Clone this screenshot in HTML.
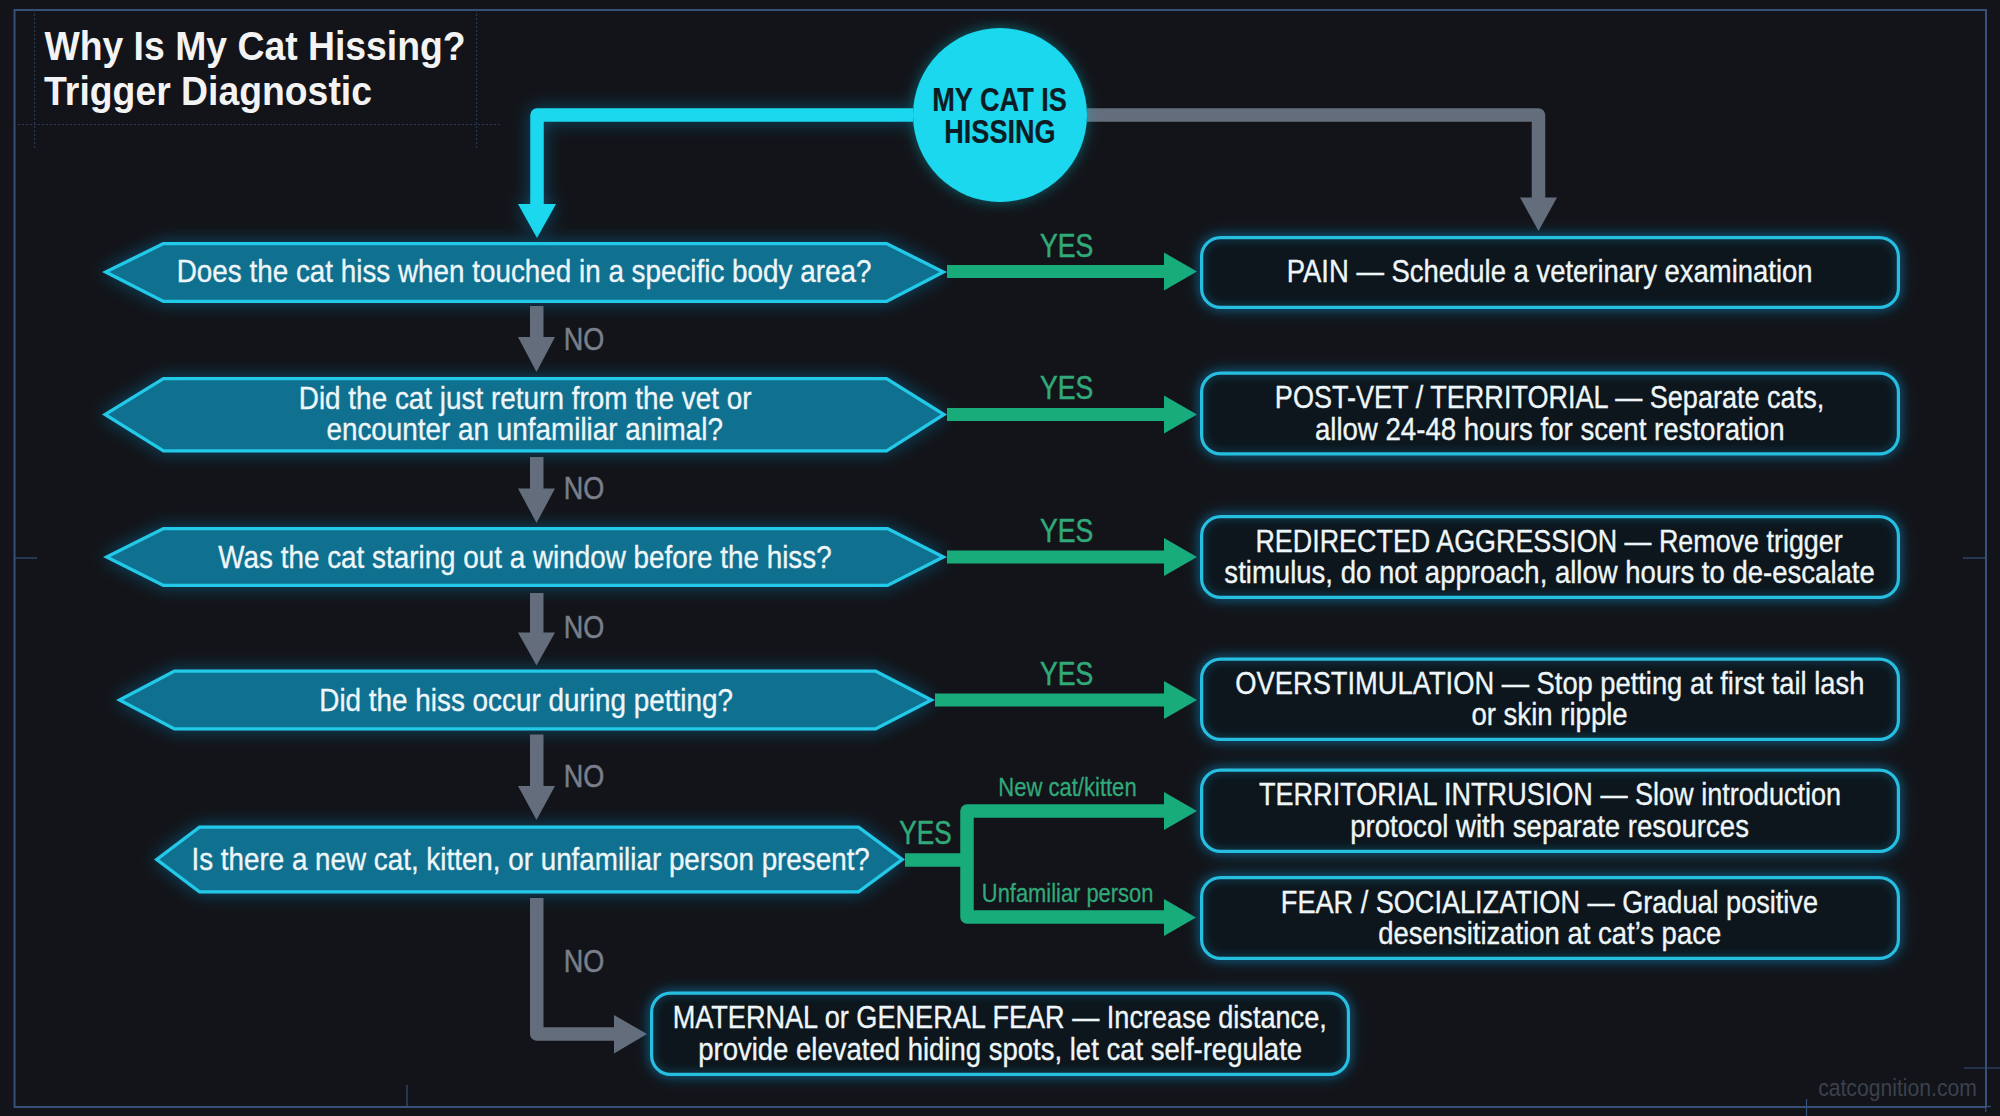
<!DOCTYPE html>
<html><head><meta charset="utf-8"><title>Why Is My Cat Hissing? Trigger Diagnostic</title>
<style>
html,body{margin:0;padding:0;background:#121419;}
body{width:2000px;height:1116px;overflow:hidden;}
svg{display:block;font-family:"Liberation Sans", sans-serif;}
</style></head><body>
<svg width="2000" height="1116" viewBox="0 0 2000 1116">
<defs>
<filter id="glow" x="-10%" y="-50%" width="120%" height="200%">
  <feGaussianBlur in="SourceAlpha" stdDeviation="9" result="b"/>
  <feFlood flood-color="#1890d0" flood-opacity="0.45"/>
  <feComposite in2="b" operator="in" result="g"/>
  <feMerge><feMergeNode in="g"/><feMergeNode in="SourceGraphic"/></feMerge>
</filter>
<filter id="glow2" x="-30%" y="-30%" width="160%" height="160%">
  <feGaussianBlur in="SourceAlpha" stdDeviation="7" result="b"/>
  <feFlood flood-color="#1ad6ee" flood-opacity="0.4"/>
  <feComposite in2="b" operator="in" result="g"/>
  <feMerge><feMergeNode in="g"/><feMergeNode in="SourceGraphic"/></feMerge>
</filter>
<filter id="soft" x="-5%" y="-30%" width="110%" height="160%"><feGaussianBlur stdDeviation="4"/></filter>
</defs>
<rect width="2000" height="1116" fill="#121419"/>
<rect x="14.5" y="10" width="1971.5" height="1097" fill="none" stroke="#37507a" stroke-width="2"/>
<g stroke="#37507a" stroke-width="1.2"><line x1="14" y1="558" x2="37" y2="558"/><line x1="1963" y1="558" x2="1986" y2="558"/><line x1="407" y1="1085" x2="407" y2="1107"/><line x1="1806.5" y1="1099" x2="1806.5" y2="1116"/><line x1="1964" y1="1068" x2="2000" y2="1068"/><line x1="1985.75" y1="1107" x2="1985.75" y2="1112"/><line x1="1986" y1="1106.5" x2="1991" y2="1106.5"/></g>
<g stroke="#293a52" stroke-width="1.2" stroke-dasharray="2 2" fill="none"><line x1="34.5" y1="10" x2="34.5" y2="148"/><line x1="476.5" y1="10" x2="476.5" y2="148"/><line x1="14" y1="124.5" x2="500" y2="124.5"/></g>
<text x="44.4" y="60.5" font-size="40" fill="#f3f3f3" stroke="#f3f3f3" stroke-width="0" font-weight="bold" transform="translate(44.4 0) scale(0.9343 1) translate(-44.4 0)">Why Is My Cat Hissing?</text>
<text x="44.13" y="104.7" font-size="40" fill="#f3f3f3" stroke="#f3f3f3" stroke-width="0" font-weight="bold" transform="translate(44.13 0) scale(0.9339 1) translate(-44.13 0)">Trigger Diagnostic</text>
<g filter="url(#glow)"><path d="M913 115 H537 V205" fill="none" stroke="#1ad8ef" stroke-width="13.5" stroke-linejoin="round"/><polygon points="518,204 556,204 537,238" fill="#1ad8ef"/></g>
<path d="M1087 115 H1538.5 V198" fill="none" stroke="#646d7b" stroke-width="13.5" stroke-linejoin="round"/><polygon points="1520,197.5 1557,197.5 1538.5,231" fill="#646d7b"/>
<circle cx="1000" cy="115" r="87" fill="#1ad8ef" filter="url(#glow2)"/>
<text x="932.23" y="111.5" font-size="32.5" fill="#0d1c24" stroke="#0d1c24" stroke-width="0.2" font-weight="bold" transform="translate(932.23 0) scale(0.8357 1) translate(-932.23 0)">MY CAT IS</text>
<text x="944.24" y="142.6" font-size="32.5" fill="#0d1c24" stroke="#0d1c24" stroke-width="0.2" font-weight="bold" transform="translate(944.24 0) scale(0.8339 1) translate(-944.24 0)">HISSING</text>
<polygon points="102.00,272.00 163.00,242.00 887.00,242.00 947.00,272.00 887.00,303.00 163.00,303.00" fill="#24c9e8" filter="url(#glow)"/>
<polygon points="109.38,272.05 163.77,245.30 886.22,245.30 939.72,272.05 886.20,299.70 163.79,299.70" fill="#0f7090"/>
<polygon points="102.00,414.50 163.00,377.00 887.00,377.00 947.00,414.50 887.00,452.50 163.00,452.50" fill="#24c9e8" filter="url(#glow)"/>
<polygon points="108.27,414.52 163.93,380.30 886.05,380.30 940.80,414.52 886.04,449.20 163.94,449.20" fill="#0f7090"/>
<polygon points="103.00,557.00 163.00,527.00 888.00,527.00 947.00,557.00 888.00,587.00 163.00,587.00" fill="#24c9e8" filter="url(#glow)"/>
<polygon points="110.38,557.00 163.78,530.30 887.21,530.30 939.72,557.00 887.21,583.70 163.78,583.70" fill="#0f7090"/>
<polygon points="116.00,700.00 174.00,669.50 876.00,669.50 935.00,700.00 876.00,730.50 174.00,730.50" fill="#24c9e8" filter="url(#glow)"/>
<polygon points="123.09,700.00 174.81,672.80 875.20,672.80 927.81,700.00 875.20,727.20 174.81,727.20" fill="#0f7090"/>
<polygon points="154.00,859.50 199.00,825.50 859.00,825.50 905.00,859.50 859.00,893.50 199.00,893.50" fill="#24c9e8" filter="url(#glow)"/>
<polygon points="159.47,859.50 200.11,828.80 857.91,828.80 899.45,859.50 857.91,890.20 200.11,890.20" fill="#0f7090"/>
<text x="176.77" y="282.5" font-size="31.5" fill="#eef6f9" stroke="#eef6f9" stroke-width="0.35" transform="translate(176.77 0) scale(0.8836 1) translate(-176.77 0)">Does the cat hiss when touched in a specific body area?</text>
<text x="298.77" y="409" font-size="31.5" fill="#eef6f9" stroke="#eef6f9" stroke-width="0.35" transform="translate(298.77 0) scale(0.8857 1) translate(-298.77 0)">Did the cat just return from the vet or</text>
<text x="326.39" y="440.5" font-size="31.5" fill="#eef6f9" stroke="#eef6f9" stroke-width="0.35" transform="translate(326.39 0) scale(0.8848 1) translate(-326.39 0)">encounter an unfamiliar animal?</text>
<text x="218.36" y="567.7" font-size="31.5" fill="#eef6f9" stroke="#eef6f9" stroke-width="0.35" transform="translate(218.36 0) scale(0.8842 1) translate(-218.36 0)">Was the cat staring out a window before the hiss?</text>
<text x="319.27" y="710.6" font-size="31.5" fill="#eef6f9" stroke="#eef6f9" stroke-width="0.35" transform="translate(319.27 0) scale(0.885 1) translate(-319.27 0)">Did the hiss occur during petting?</text>
<text x="191.5" y="870.4" font-size="31.5" fill="#eef6f9" stroke="#eef6f9" stroke-width="0.35" transform="translate(191.5 0) scale(0.8827 1) translate(-191.5 0)">Is there a new cat, kitten, or unfamiliar person present?</text>
<rect x="947" y="265.0" width="218" height="13" fill="#19ac7b"/><polygon points="1164,252.5 1164,290.5 1197,271.5" fill="#19ac7b"/>
<text x="1039.93" y="257.2" font-size="32.5" fill="#31a979" stroke="#31a979" stroke-width="0.5" transform="translate(1039.93 0) scale(0.8194 1) translate(-1039.93 0)">YES</text>
<rect x="947" y="408.0" width="218" height="13" fill="#19ac7b"/><polygon points="1164,395.5 1164,433.5 1197,414.5" fill="#19ac7b"/>
<text x="1039.93" y="399" font-size="32.5" fill="#31a979" stroke="#31a979" stroke-width="0.5" transform="translate(1039.93 0) scale(0.8194 1) translate(-1039.93 0)">YES</text>
<rect x="947" y="550.5" width="218" height="13" fill="#19ac7b"/><polygon points="1164,538 1164,576 1197,557" fill="#19ac7b"/>
<text x="1039.93" y="542" font-size="32.5" fill="#31a979" stroke="#31a979" stroke-width="0.5" transform="translate(1039.93 0) scale(0.8194 1) translate(-1039.93 0)">YES</text>
<rect x="935" y="693.5" width="230" height="13" fill="#19ac7b"/><polygon points="1164,681 1164,719 1197,700" fill="#19ac7b"/>
<text x="1039.93" y="685" font-size="32.5" fill="#31a979" stroke="#31a979" stroke-width="0.5" transform="translate(1039.93 0) scale(0.8194 1) translate(-1039.93 0)">YES</text>
<path d="M905 860 H967 M1165 811 H967 V917 H1165" fill="none" stroke="#19ac7b" stroke-width="13.5" stroke-linejoin="round"/>
<polygon points="1164,792 1164,830 1197,811" fill="#19ac7b"/>
<polygon points="1164,899 1164,936 1196,917.5" fill="#19ac7b"/>
<text x="899.35" y="843.6" font-size="32.5" fill="#31a979" stroke="#31a979" stroke-width="0.5" transform="translate(899.35 0) scale(0.8051 1) translate(-899.35 0)">YES</text>
<text x="998.24" y="795.7" font-size="26.5" fill="#31a979" stroke="#31a979" stroke-width="0.3" transform="translate(998.24 0) scale(0.8322 1) translate(-998.24 0)">New cat/kitten</text>
<text x="981.86" y="902.4" font-size="26.5" fill="#31a979" stroke="#31a979" stroke-width="0.3" transform="translate(981.86 0) scale(0.8263 1) translate(-981.86 0)">Unfamiliar person</text>
<rect x="530" y="306" width="13.5" height="32" fill="#646d7b"/><polygon points="518,337 555,337 536.5,372" fill="#646d7b"/>
<text x="563.84" y="349.8" font-size="31.5" fill="#787f8b" stroke="#787f8b" stroke-width="0.5" transform="translate(563.84 0) scale(0.8574 1) translate(-563.84 0)">NO</text>
<rect x="530" y="457" width="13.5" height="32.5" fill="#646d7b"/><polygon points="518,488.5 555,488.5 536.5,523" fill="#646d7b"/>
<text x="563.84" y="499" font-size="31.5" fill="#787f8b" stroke="#787f8b" stroke-width="0.5" transform="translate(563.84 0) scale(0.8574 1) translate(-563.84 0)">NO</text>
<rect x="530" y="593" width="13.5" height="40.60000000000002" fill="#646d7b"/><polygon points="518,632.6 555,632.6 536.5,665.6" fill="#646d7b"/>
<text x="563.84" y="638" font-size="31.5" fill="#787f8b" stroke="#787f8b" stroke-width="0.5" transform="translate(563.84 0) scale(0.8574 1) translate(-563.84 0)">NO</text>
<rect x="530" y="734.5" width="13.5" height="52.5" fill="#646d7b"/><polygon points="518,786 555,786 536.5,820" fill="#646d7b"/>
<text x="563.84" y="787.5" font-size="31.5" fill="#787f8b" stroke="#787f8b" stroke-width="0.5" transform="translate(563.84 0) scale(0.8574 1) translate(-563.84 0)">NO</text>
<path d="M536.75 898 V1034 H615" fill="none" stroke="#646d7b" stroke-width="13.5" stroke-linejoin="round"/><polygon points="614,1015 614,1053.5 647,1034" fill="#646d7b"/>
<text x="563.84" y="971.7" font-size="31.5" fill="#787f8b" stroke="#787f8b" stroke-width="0.5" transform="translate(563.84 0) scale(0.8574 1) translate(-563.84 0)">NO</text>
<rect x="1201.6" y="237.6" width="696.8" height="69.8" rx="19" fill="#11151b" filter="url(#glow)"/>
<rect x="1201.6" y="237.6" width="696.8" height="69.8" rx="19" fill="none" stroke="#1a8cc8" stroke-width="6" opacity="0.35" filter="url(#soft)"/>
<rect x="1201.6" y="237.6" width="696.8" height="69.8" rx="19" fill="none" stroke="#26bfe0" stroke-width="3.2"/>
<text x="1286.8" y="281.8" font-size="31.5" fill="#eef6f9" stroke="#eef6f9" stroke-width="0.35" transform="translate(1286.8 0) scale(0.8717 1) translate(-1286.8 0)">PAIN — Schedule a veterinary examination</text>
<rect x="1201.6" y="373.1" width="696.8" height="80.8" rx="19" fill="#11151b" filter="url(#glow)"/>
<rect x="1201.6" y="373.1" width="696.8" height="80.8" rx="19" fill="none" stroke="#1a8cc8" stroke-width="6" opacity="0.35" filter="url(#soft)"/>
<rect x="1201.6" y="373.1" width="696.8" height="80.8" rx="19" fill="none" stroke="#26bfe0" stroke-width="3.2"/>
<text x="1274.83" y="408.5" font-size="31.5" fill="#eef6f9" stroke="#eef6f9" stroke-width="0.35" transform="translate(1274.83 0) scale(0.8593 1) translate(-1274.83 0)">POST-VET / TERRITORIAL — Separate cats,</text>
<text x="1314.9" y="440" font-size="31.5" fill="#eef6f9" stroke="#eef6f9" stroke-width="0.35" transform="translate(1314.9 0) scale(0.877 1) translate(-1314.9 0)">allow 24-48 hours for scent restoration</text>
<rect x="1201.6" y="516.6" width="696.8" height="80.8" rx="19" fill="#11151b" filter="url(#glow)"/>
<rect x="1201.6" y="516.6" width="696.8" height="80.8" rx="19" fill="none" stroke="#1a8cc8" stroke-width="6" opacity="0.35" filter="url(#soft)"/>
<rect x="1201.6" y="516.6" width="696.8" height="80.8" rx="19" fill="none" stroke="#26bfe0" stroke-width="3.2"/>
<text x="1255.45" y="551.7" font-size="31.5" fill="#eef6f9" stroke="#eef6f9" stroke-width="0.35" transform="translate(1255.45 0) scale(0.854 1) translate(-1255.45 0)">REDIRECTED AGGRESSION — Remove trigger</text>
<text x="1224.37" y="582.9" font-size="31.5" fill="#eef6f9" stroke="#eef6f9" stroke-width="0.35" transform="translate(1224.37 0) scale(0.8742 1) translate(-1224.37 0)">stimulus, do not approach, allow hours to de-escalate</text>
<rect x="1201.6" y="659.1" width="696.8" height="80.3" rx="19" fill="#11151b" filter="url(#glow)"/>
<rect x="1201.6" y="659.1" width="696.8" height="80.3" rx="19" fill="none" stroke="#1a8cc8" stroke-width="6" opacity="0.35" filter="url(#soft)"/>
<rect x="1201.6" y="659.1" width="696.8" height="80.3" rx="19" fill="none" stroke="#26bfe0" stroke-width="3.2"/>
<text x="1235.27" y="694" font-size="31.5" fill="#eef6f9" stroke="#eef6f9" stroke-width="0.35" transform="translate(1235.27 0) scale(0.8669 1) translate(-1235.27 0)">OVERSTIMULATION — Stop petting at first tail lash</text>
<text x="1471.4" y="725.3" font-size="31.5" fill="#eef6f9" stroke="#eef6f9" stroke-width="0.35" transform="translate(1471.4 0) scale(0.8754 1) translate(-1471.4 0)">or skin ripple</text>
<rect x="1201.6" y="770.1" width="696.8" height="81.3" rx="19" fill="#11151b" filter="url(#glow)"/>
<rect x="1201.6" y="770.1" width="696.8" height="81.3" rx="19" fill="none" stroke="#1a8cc8" stroke-width="6" opacity="0.35" filter="url(#soft)"/>
<rect x="1201.6" y="770.1" width="696.8" height="81.3" rx="19" fill="none" stroke="#26bfe0" stroke-width="3.2"/>
<text x="1258.96" y="805.5" font-size="31.5" fill="#eef6f9" stroke="#eef6f9" stroke-width="0.35" transform="translate(1258.96 0) scale(0.8599 1) translate(-1258.96 0)">TERRITORIAL INTRUSION — Slow introduction</text>
<text x="1350.21" y="836.8" font-size="31.5" fill="#eef6f9" stroke="#eef6f9" stroke-width="0.35" transform="translate(1350.21 0) scale(0.8761 1) translate(-1350.21 0)">protocol with separate resources</text>
<rect x="1201.6" y="877.6" width="696.8" height="80.8" rx="19" fill="#11151b" filter="url(#glow)"/>
<rect x="1201.6" y="877.6" width="696.8" height="80.8" rx="19" fill="none" stroke="#1a8cc8" stroke-width="6" opacity="0.35" filter="url(#soft)"/>
<rect x="1201.6" y="877.6" width="696.8" height="80.8" rx="19" fill="none" stroke="#26bfe0" stroke-width="3.2"/>
<text x="1280.83" y="912.6" font-size="31.5" fill="#eef6f9" stroke="#eef6f9" stroke-width="0.35" transform="translate(1280.83 0) scale(0.8607 1) translate(-1280.83 0)">FEAR / SOCIALIZATION — Gradual positive</text>
<text x="1378.2" y="943.8" font-size="31.5" fill="#eef6f9" stroke="#eef6f9" stroke-width="0.35" transform="translate(1378.2 0) scale(0.8719 1) translate(-1378.2 0)">desensitization at cat’s pace</text>
<rect x="651.6" y="993.1" width="696.8" height="81.3" rx="19" fill="#11151b" filter="url(#glow)"/>
<rect x="651.6" y="993.1" width="696.8" height="81.3" rx="19" fill="none" stroke="#1a8cc8" stroke-width="6" opacity="0.35" filter="url(#soft)"/>
<rect x="651.6" y="993.1" width="696.8" height="81.3" rx="19" fill="none" stroke="#26bfe0" stroke-width="3.2"/>
<text x="672.63" y="1028.3" font-size="31.5" fill="#eef6f9" stroke="#eef6f9" stroke-width="0.35" transform="translate(672.63 0) scale(0.8607 1) translate(-672.63 0)">MATERNAL or GENERAL FEAR — Increase distance,</text>
<text x="698.21" y="1059.8" font-size="31.5" fill="#eef6f9" stroke="#eef6f9" stroke-width="0.35" transform="translate(698.21 0) scale(0.8734 1) translate(-698.21 0)">provide elevated hiding spots, let cat self-regulate</text>
<text x="1818.15" y="1096.1" font-size="24" fill="#3b414d" stroke="#3b414d" stroke-width="0" transform="translate(1818.15 0) scale(0.8818 1) translate(-1818.15 0)">catcognition.com</text>
</svg>
</body></html>
